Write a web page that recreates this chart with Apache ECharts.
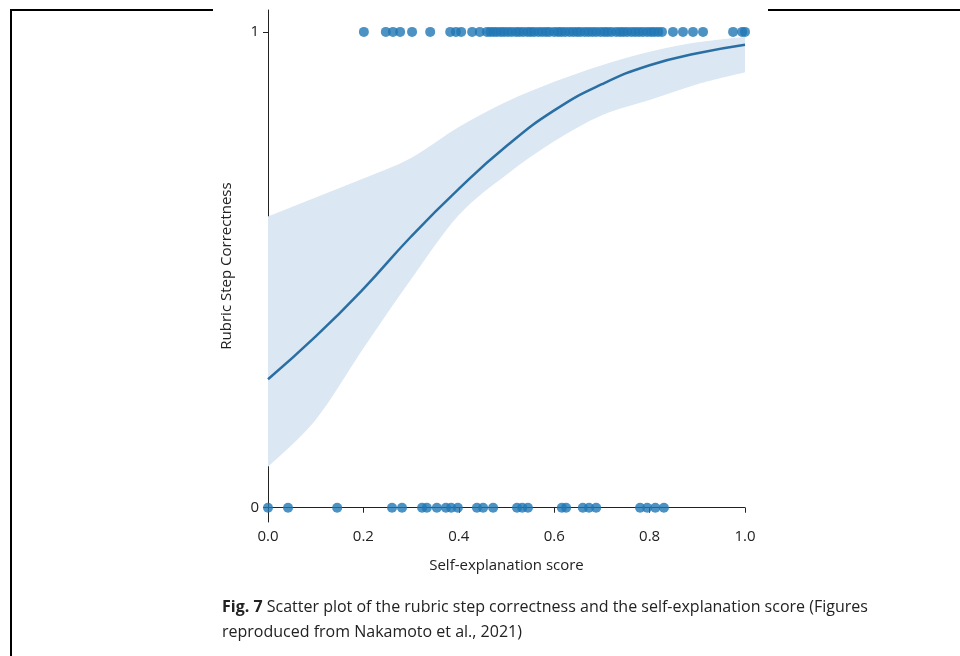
<!DOCTYPE html>
<html><head><meta charset="utf-8">
<script src="https://cdn.jsdelivr.net/npm/echarts@6/dist/echarts.min.js"></script>
<style>html,body{margin:0;padding:0;background:#fff}#c{width:960px;height:656px}</style>
</head><body><div id="c"></div>
<script>
// Points with Rubric Step Correctness = 1
const topX = [0.201, 0.247, 0.262, 0.277, 0.302, 0.340, 0.382, 0.394, 0.405, 0.428, 0.444, 0.459,
  0.466, 0.473, 0.480, 0.488, 0.495, 0.503, 0.511, 0.520, 0.527, 0.535, 0.544, 0.551, 0.558, 0.567,
  0.575, 0.583, 0.590, 0.600, 0.608, 0.615, 0.623, 0.632, 0.640, 0.648, 0.655, 0.664, 0.672, 0.680,
  0.688, 0.697, 0.705, 0.712, 0.720, 0.730, 0.738, 0.745, 0.753, 0.762, 0.770, 0.778, 0.786, 0.795,
  0.803, 0.810, 0.818, 0.826, 0.849, 0.870, 0.891, 0.912, 0.975, 0.994, 1.0];
// Points with Rubric Step Correctness = 0
const bottomX = [0.0, 0.042, 0.145, 0.260, 0.281, 0.323, 0.333, 0.354, 0.373, 0.384, 0.398, 0.438,
  0.451, 0.472, 0.522, 0.533, 0.545, 0.616, 0.625, 0.660, 0.673, 0.688, 0.780, 0.795, 0.812, 0.830];
// Logistic fit and confidence band
const curveX = [0, 0.1, 0.2, 0.3, 0.4, 0.5, 0.6, 0.7, 0.8, 0.9, 1.0];
const curveY = [0.27, 0.36, 0.46, 0.57, 0.67, 0.76, 0.835, 0.89, 0.93, 0.955, 0.973];
const lowerY = [0.086, 0.185, 0.335, 0.48, 0.615, 0.70, 0.77, 0.825, 0.857, 0.89, 0.915];
const upperY = [0.612, 0.652, 0.692, 0.735, 0.80, 0.853, 0.895, 0.93, 0.958, 0.978, 0.99];
const yTicks = [0, 1];
const xLabel = 'Self-explanation score';
const yLabel = 'Rubric Step Correctness';
const captionBold = 'Fig. 7';
const captionText = ' Scatter plot of the rubric step correctness and the self-explanation score (Figures';
const captionText2 = 'reproduced from Nakamoto et al., 2021)';

const chart = echarts.init(document.getElementById('c'), null, {renderer: 'canvas'});
const nameFont = {fontFamily: 'Open Sans', fontSize: 15, color: '#222'};
const tickFont = {fontFamily: 'Open Sans', fontSize: 15, color: '#222'};

const bandData = curveX.map((x, i) => [x, lowerY[i], upperY[i]]);

// Catmull-Rom spline through pixel points, as SVG path segments
function splinePath(pts, start) {
  const f = v => v.toFixed(2);
  let d = (start ? 'M' : 'L') + f(pts[0][0]) + ' ' + f(pts[0][1]);
  for (let i = 0; i < pts.length - 1; i++) {
    const p0 = pts[Math.max(0, i - 1)], p1 = pts[i], p2 = pts[i + 1], p3 = pts[Math.min(pts.length - 1, i + 2)];
    const c1 = [p1[0] + (p2[0] - p0[0]) / 6, p1[1] + (p2[1] - p0[1]) / 6];
    const c2 = [p2[0] - (p3[0] - p1[0]) / 6, p2[1] - (p3[1] - p1[1]) / 6];
    d += ' C' + f(c1[0]) + ' ' + f(c1[1]) + ' ' + f(c2[0]) + ' ' + f(c2[1]) + ' ' + f(p2[0]) + ' ' + f(p2[1]);
  }
  return d;
}

const option = {
  animation: false,
  backgroundColor: '#fff',
  grid: {left: 268, right: 215, top: 10, bottom: 134, containLabel: false},
  xAxis: {
    type: 'value', min: 0, max: 1, interval: 0.2,
    name: xLabel, nameLocation: 'middle', nameGap: 36,
    nameTextStyle: nameFont,
    axisLine: {lineStyle: {color: '#222', width: 1}},
    axisTick: {show: true, inside: false, length: 5, lineStyle: {color: '#222'}},
    axisLabel: Object.assign({formatter: v => v.toFixed(1), margin: 7}, tickFont),
    splitLine: {show: false}
  },
  yAxis: {
    type: 'value', min: -0.03, max: 1.046,
    name: yLabel, nameLocation: 'middle', nameGap: 34, nameRotate: 90,
    nameTextStyle: nameFont,
    axisLine: {show: true, lineStyle: {color: '#222', width: 1}},
    axisTick: {show: true, inside: false, length: 5, customValues: yTicks, lineStyle: {color: '#222'}},
    axisLabel: Object.assign({customValues: yTicks, margin: 9}, tickFont),
    splitLine: {show: false}
  },
  series: [
    {
      type: 'custom', name: 'band',
      data: bandData,
      encode: {x: 0, y: [1, 2]},
      renderItem: function (params, api) {
        if (params.dataIndex !== 0) return null;
        const up = bandData.map(d => api.coord([d[0], d[2]]));
        const lo = bandData.map(d => api.coord([d[0], d[1]])).reverse();
        const path = splinePath(up, true) + ' ' + splinePath(lo, false) + ' Z';
        return {
          type: 'path',
          shape: {pathData: path},
          style: {fill: '#dbe7f2', stroke: null}
        };
      },
      z: 1, silent: true
    },
    {
      type: 'scatter', symbolSize: 10,
      data: topX.map(x => [x, 1]).concat(bottomX.map(x => [x, 0])),
      itemStyle: {color: '#1f77b4', opacity: 0.8}, z: 3
    },
    {
      type: 'line', symbol: 'none', smooth: true,
      data: curveX.map((x, i) => [x, curveY[i]]),
      lineStyle: {color: '#2a6fa3', width: 2.5}, z: 4
    }
  ],
  graphic: [
    {type: 'line', shape: {x1: 10, y1: 10, x2: 213, y2: 10}, style: {stroke: '#000', lineWidth: 2}},
    {type: 'line', shape: {x1: 768, y1: 10, x2: 960, y2: 10}, style: {stroke: '#000', lineWidth: 2}},
    {type: 'line', shape: {x1: 11, y1: 9, x2: 11, y2: 656}, style: {stroke: '#000', lineWidth: 2}},
    {
      type: 'text', left: 222, top: 595,
      style: {
        text: '{b|' + captionBold + '}' + captionText + '\n' + captionText2,
        fontFamily: 'Open Sans', fontSize: 16, fill: '#222', lineHeight: 25,
        rich: {b: {fontFamily: 'Open Sans', fontSize: 16, fontWeight: 'bold', fill: '#222'}}
      }
    }
  ]
};
chart.setOption(option);
</script>
</body></html>
